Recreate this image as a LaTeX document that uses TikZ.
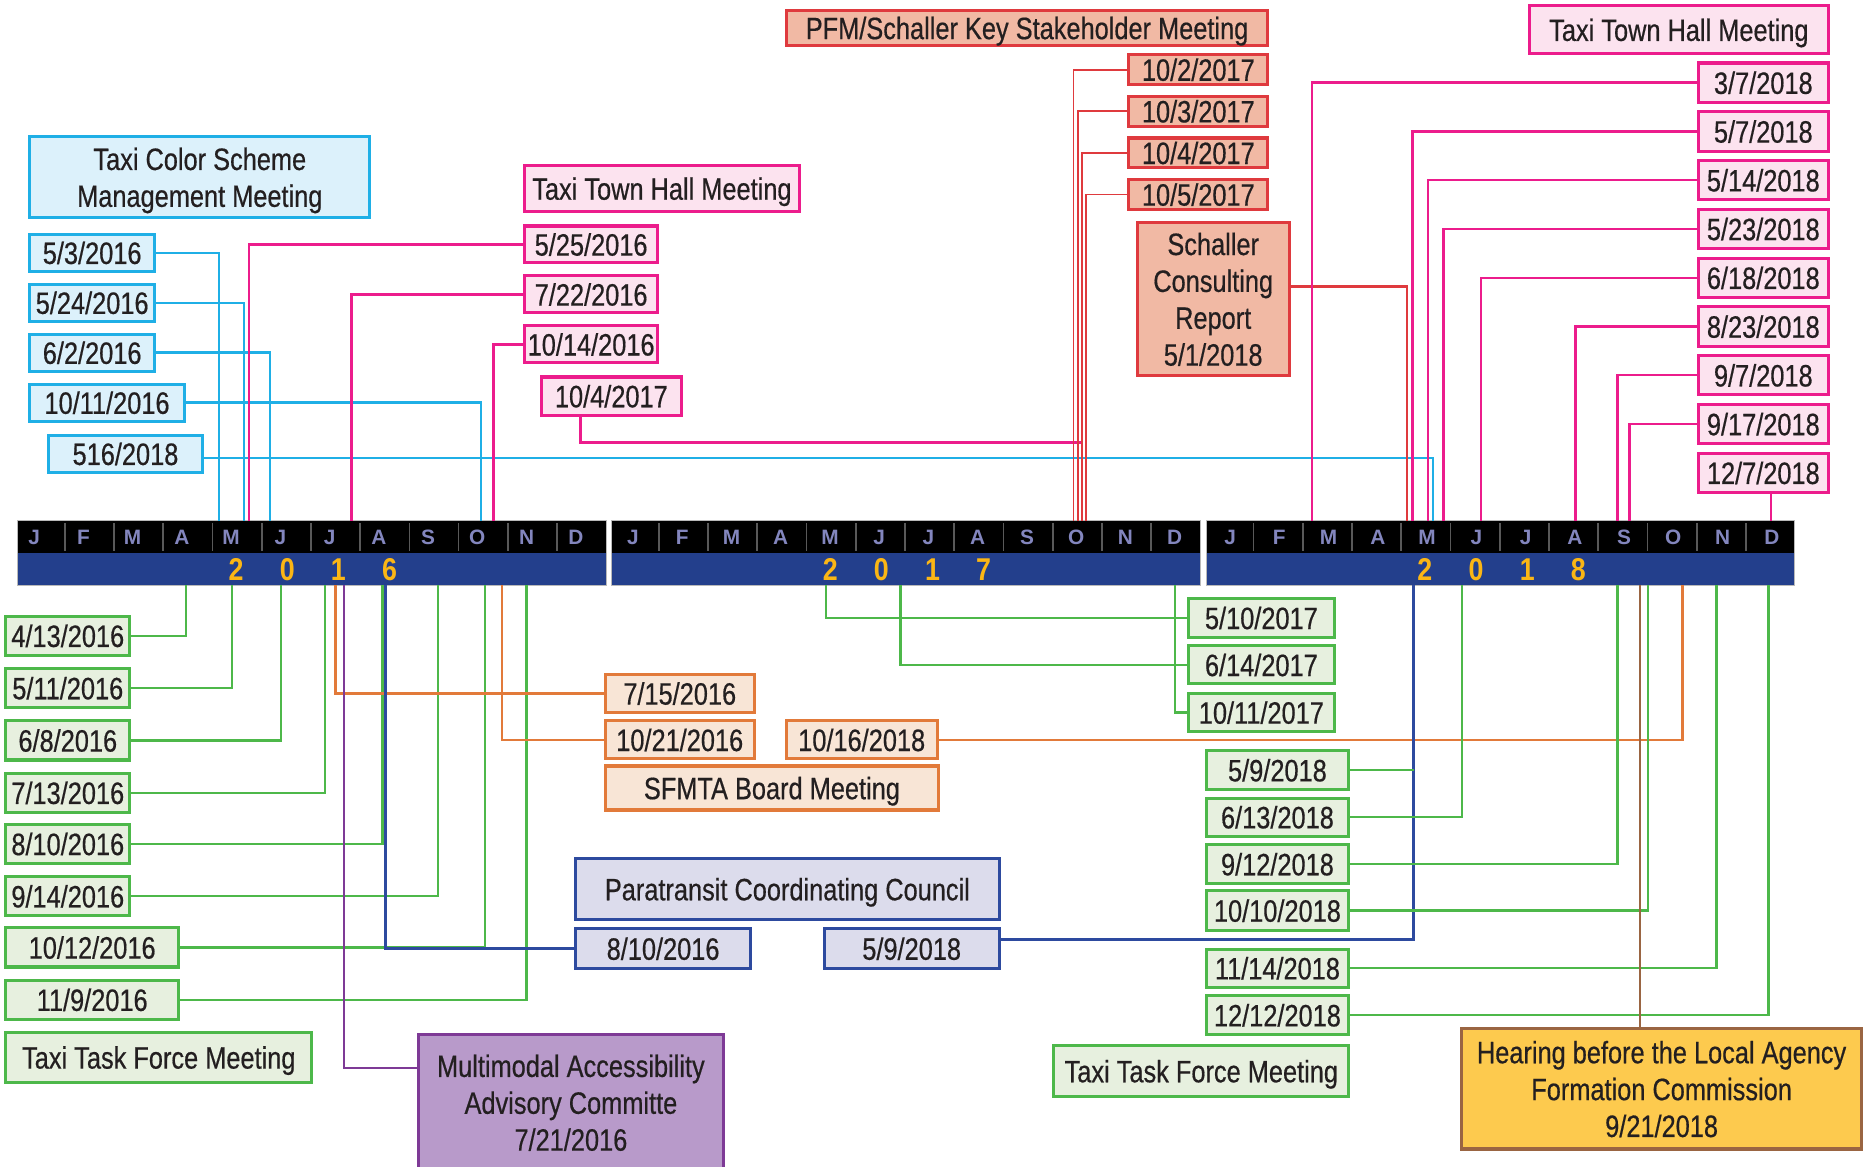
\documentclass[tikz,border=0pt]{standalone}
\usepackage{fontspec}
\setmainfont[FakeStretch=0.82,FakeBold=0.5]{Liberation Sans}
\newfontfamily\monthfont{Liberation Sans}
\newfontfamily\yearfont[FakeStretch=0.85]{Liberation Sans}
\definecolor{cyanB}{HTML}{1FAFE6}
\definecolor{cyanF}{HTML}{DCF1FB}
\definecolor{magB}{HTML}{EC1C8C}
\definecolor{magF}{HTML}{FCE3EF}
\definecolor{redB}{HTML}{DF3A3E}
\definecolor{redF}{HTML}{F1B9A4}
\definecolor{grnB}{HTML}{4DB84A}
\definecolor{grnF}{HTML}{E7F0DF}
\definecolor{orgB}{HTML}{E27A3A}
\definecolor{orgF}{HTML}{F8E5D6}
\definecolor{navB}{HTML}{2D4A9F}
\definecolor{navF}{HTML}{DCDCEC}
\definecolor{purB}{HTML}{7E3A96}
\definecolor{purF}{HTML}{B89ACA}
\definecolor{brnB}{HTML}{9A6542}
\definecolor{goldF}{HTML}{FDCA4E}
\definecolor{barblue}{HTML}{233F8C}
\definecolor{monthcol}{HTML}{8386BE}
\definecolor{yearcol}{HTML}{FBB615}
\definecolor{txt}{HTML}{231F20}
\newcommand\mkbox[7]{\node[#1, anchor=north west, minimum width={#5-#3}, minimum height={#6-#4}] (#2) at (#3,#4) {#7};}
\begin{document}
\begin{tikzpicture}[x=1pt,y=-1pt,
  base/.style={rectangle, draw, line width=2.6pt, inner sep=0pt, outer sep=0pt, text depth=0pt,
    font=\fontsize{26}{31}\selectfont, align=center, text=txt},
  cbox/.style={base, draw=cyanB, fill=cyanF},
  mbox/.style={base, draw=magB, fill=magF},
  rbox/.style={base, draw=redB, fill=redF},
  gbox/.style={base, draw=grnB, fill=grnF},
  obox/.style={base, draw=orgB, fill=orgF},
  vbox/.style={base, draw=navB, fill=navF},
  pbox/.style={base, draw=purB, fill=purF},
  hbox/.style={base, draw=brnB, fill=goldF},
  cl/.style={draw=cyanB, line width=2pt},
  ml/.style={draw=magB, line width=2pt},
  rl/.style={draw=redB, line width=2pt},
  rthin/.style={draw=redB, line width=1.6pt},
  gl/.style={draw=grnB, line width=2pt},
  ol/.style={draw=orgB, line width=2pt},
  vl/.style={draw=navB, line width=2pt},
  pl/.style={draw=purB, line width=2pt},
  brl/.style={draw=brnB, line width=2pt},
  monthtxt/.style={font=\monthfont\bfseries\fontsize{17.5}{18}\selectfont, text=monthcol, inner sep=0pt},
  yeartxt/.style={font=\yearfont\bfseries\fontsize{26.5}{27}\selectfont, text=yearcol, inner sep=0pt}
]
\useasboundingbox[fill=white] (0,0) rectangle (1568,981);

% ---------- timeline bars ----------
\foreach \s/\lo/\ya/\yb/\yc/\yd [count=\q] in {15/-6/2/0/1/6, 514.5/-2/2/0/1/7, 1014.5/0/2/0/1/8}{
  \fill[black] (\s,438) rectangle ++(494.5,27);
  \fill[barblue] (\s,465) rectangle ++(494.5,27);
  \draw[gray!55, line width=0.8pt] (\s,438) rectangle ++(494.5,54);
  \foreach \i in {1,...,11}{
    \draw[gray!70!black, line width=1.4pt] ({\s+\i*41.4-2},440) -- ({\s+\i*41.4-2},463);
  }
  \foreach \m [count=\i] in {J,F,M,A,M,J,J,A,S,O,N,D}{
    \node[monthtxt] (mo\q-\i) at ({\s+(\i-0.5)*41.4-1+\lo},452) {\m};
  }
  \node[yeartxt] (ya\q) at ({\s+183.5},479) {\ya};
  \node[yeartxt] (yb\q) at ({\s+226.5},479) {\yb};
  \node[yeartxt] (yc\q) at ({\s+269.5},479) {\yc};
  \node[yeartxt] (yd\q) at ({\s+312.5},479) {\yd};
}

% ---------- boxes ----------
\mkbox{cbox}{ctitle}{25}{115}{311}{183}{Taxi Color Scheme\\Management Meeting}
\mkbox{cbox}{c1}{25}{197}{130}{228}{5/3/2016}
\mkbox{cbox}{c2}{25}{239}{130}{270}{5/24/2016}
\mkbox{cbox}{c3}{25}{281}{130}{312}{6/2/2016}
\mkbox{cbox}{c4}{25}{323}{155}{354}{10/11/2016}
\mkbox{cbox}{c5}{41}{366}{170}{397}{516/2018}

\mkbox{mbox}{mtitle}{441}{139}{672}{178}{Taxi Town Hall Meeting}
\mkbox{mbox}{m1}{441}{190}{553}{221}{5/25/2016}
\mkbox{mbox}{m2}{441}{232}{553}{263}{7/22/2016}
\mkbox{mbox}{m3}{441}{274}{553}{305}{10/14/2016}
\mkbox{mbox}{m4}{455}{317}{573}{349}{10/4/2017}

\mkbox{rbox}{rtitle}{661}{9}{1066}{38}{PFM/Schaller Key Stakeholder Meeting}
\mkbox{rbox}{r1}{949}{46}{1066}{71}{10/2/2017}
\mkbox{rbox}{r2}{949}{81}{1066}{106}{10/3/2017}
\mkbox{rbox}{r3}{949}{116}{1066}{141}{10/4/2017}
\mkbox{rbox}{r4}{949}{151}{1066}{176}{10/5/2017}
\mkbox{rbox}{r5}{956}{187}{1084}{316}{Schaller\\Consulting\\Report\\5/1/2018}

\mkbox{mbox}{ntitle}{1286}{5}{1537}{45}{Taxi Town Hall Meeting}
\mkbox{mbox}{n1}{1428}{53}{1537}{86}{3/7/2018}
\mkbox{mbox}{n2}{1428}{94}{1537}{127}{5/7/2018}
\mkbox{mbox}{n3}{1428}{135}{1537}{168}{5/14/2018}
\mkbox{mbox}{n4}{1428}{176}{1537}{209}{5/23/2018}
\mkbox{mbox}{n5}{1428}{217}{1537}{250}{6/18/2018}
\mkbox{mbox}{n6}{1428}{258}{1537}{291}{8/23/2018}
\mkbox{mbox}{n7}{1428}{299}{1537}{332}{9/7/2018}
\mkbox{mbox}{n8}{1428}{340}{1537}{373}{9/17/2018}
\mkbox{mbox}{n9}{1428}{381}{1537}{414}{12/7/2018}

\mkbox{gbox}{g1}{5}{518}{109}{551}{4/13/2016}
\mkbox{gbox}{g2}{5}{562}{109}{595}{5/11/2016}
\mkbox{gbox}{g3}{5}{606}{109}{639}{6/8/2016}
\mkbox{gbox}{g4}{5}{650}{109}{683}{7/13/2016}
\mkbox{gbox}{g5}{5}{693}{109}{726}{8/10/2016}
\mkbox{gbox}{g6}{5}{737}{109}{770}{9/14/2016}
\mkbox{gbox}{g7}{5}{780}{150}{813}{10/12/2016}
\mkbox{gbox}{g8}{5}{824}{150}{857}{11/9/2016}
\mkbox{gbox}{gtitle}{5}{868}{262}{910}{Taxi Task Force Meeting}

\mkbox{obox}{o1}{509}{567}{634}{599}{7/15/2016}
\mkbox{obox}{o2}{509}{606}{634}{638}{10/21/2016}
\mkbox{obox}{o3}{661}{606}{788}{638}{10/16/2018}
\mkbox{obox}{otitle}{509}{644}{789}{681}{SFMTA Board Meeting}

\mkbox{pbox}{p1}{352}{870}{608}{984}{Multimodal Accessibility\\Advisory Committe\\7/21/2016}

\mkbox{vbox}{vtitle}{484}{722}{840}{773}{Paratransit Coordinating Council}
\mkbox{vbox}{v1}{484}{781}{631}{814}{8/10/2016}
\mkbox{vbox}{v2}{693}{781}{840}{814}{5/9/2018}

\mkbox{gbox}{e1}{999}{503}{1122}{536}{5/10/2017}
\mkbox{gbox}{e2}{999}{543}{1122}{575}{6/14/2017}
\mkbox{gbox}{e3}{999}{583}{1122}{615}{10/11/2017}

\mkbox{gbox}{f1}{1014}{631}{1134}{664}{5/9/2018}
\mkbox{gbox}{f2}{1014}{671}{1134}{703}{6/13/2018}
\mkbox{gbox}{f3}{1014}{710}{1134}{743}{9/12/2018}
\mkbox{gbox}{f4}{1014}{749}{1134}{782}{10/10/2018}
\mkbox{gbox}{f5}{1014}{798}{1134}{830}{11/14/2018}
\mkbox{gbox}{f6}{1014}{837}{1134}{870}{12/12/2018}
\mkbox{gbox}{ftitle}{886}{879}{1134}{922}{Taxi Task Force Meeting}

\mkbox{hbox}{h1}{1229}{865}{1565}{966}{Hearing before the Local Agency\\Formation Commission\\9/21/2018}

% ---------- anchor points on the bars ----------
% top edge (y = 438)
\coordinate (tc1) at (184,438);
\coordinate (tc2) at (205,438);
\coordinate (tc3) at (227,438);
\coordinate (tc4) at (404.5,438);
\coordinate (tc5) at (1205,438);
\coordinate (kc5) at (1205,385);
\coordinate (tm1) at (209.5,438);
\coordinate (tm2) at (295.5,438);
\coordinate (tm3) at (415,438);
\coordinate (tm4) at (909.5,438);
\coordinate (km4a) at (488,372);
\coordinate (km4b) at (909.5,372);
\coordinate (tr1) at (902.5,438);
\coordinate (tr2) at (906,438);
\coordinate (tr3) at (909.5,438);
\coordinate (tr4) at (913,438);
\coordinate (tr5) at (1183,438);
\coordinate (kr5) at (1183,241);
\coordinate (tn1) at (1103,438);
\coordinate (tn2) at (1187.5,438);
\coordinate (tn3) at (1200.5,438);
\coordinate (tn4) at (1213.5,438);
\coordinate (tn5) at (1245,438);
\coordinate (tn6) at (1324.5,438);
\coordinate (tn7) at (1360,438);
\coordinate (tn8) at (1370,438);
\coordinate (tn9) at (1489,438);
% bottom edge (y = 492)
\coordinate (bg1) at (156.5,492);
\coordinate (bg2) at (195,492);
\coordinate (bg3) at (236,492);
\coordinate (bg4) at (273.5,492);
\coordinate (bg5) at (321.5,492);
\coordinate (bg6) at (368.5,492);
\coordinate (bg7) at (408,492);
\coordinate (bg8) at (442.5,492);
\coordinate (bo1) at (282,492);
\coordinate (bo2) at (422,492);
\coordinate (bo3) at (1414.5,492);
\coordinate (bp1) at (289,492);
\coordinate (kp1) at (289,898);
\coordinate (bv1) at (324,492);
\coordinate (bv2) at (1188.5,492);
\coordinate (kv2) at (1188.5,790);
\coordinate (be1) at (694.5,492);
\coordinate (be2) at (757,492);
\coordinate (be3) at (988,492);
\coordinate (bf2) at (1229,492);
\coordinate (bf3) at (1360,492);
\coordinate (bf4) at (1385.5,492);
\coordinate (bf5) at (1443,492);
\coordinate (bf6) at (1487,492);
\coordinate (bh1) at (1379,492);

% ---------- connectors ----------
\draw[cl] (c1.east) -| (tc1);
\draw[cl] (c2.east) -| (tc2);
\draw[cl] (c3.east) -| (tc3);
\draw[cl] (c4.east) -| (tc4);
\draw[cl] (c5.east |- kc5) -- (kc5) -- (tc5);

\draw[ml] (m1.west) -| (tm1);
\draw[ml] (m2.west) -| (tm2);
\draw[ml] (m3.west) -| (tm3);
\draw[ml] (m4.south -| km4a) |- (km4b) -- (tm4);

\draw[rthin] (r1.west) -| (tr1);
\draw[rthin] (r2.west) -| (tr2);
\draw[rthin] (r3.west) -| (tr3);
\draw[rthin] (r4.west) -| (tr4);
\draw[rl] (r5.east |- kr5) -- (kr5) -- (tr5);

\draw[ml] (n1.west) -| (tn1);
\draw[ml] (n2.west) -| (tn2);
\draw[ml] (n3.west) -| (tn3);
\draw[ml] (n4.west) -| (tn4);
\draw[ml] (n5.west) -| (tn5);
\draw[ml] (n6.west) -| (tn6);
\draw[ml] (n7.west) -| (tn7);
\draw[ml] (n8.west) -| (tn8);
\draw[ml] (n9.south -| tn9) -- (tn9);

\draw[gl] (g1.east) -| (bg1);
\draw[gl] (g2.east) -| (bg2);
\draw[gl] (g3.east) -| (bg3);
\draw[gl] (g4.east) -| (bg4);
\draw[gl] (g5.east) -| (bg5);
\draw[gl] (g6.east) -| (bg6);
\draw[gl] (g7.east) -| (bg7);
\draw[gl] (g8.east) -| (bg8);

\draw[ol] (o1.west) -| (bo1);
\draw[ol] (o2.west) -| (bo2);
\draw[ol] (o3.east) -| (bo3);

\draw[pl] (p1.west |- kp1) -- (kp1) -- (bp1);

\draw[vl] (v1.west) -| (bv1);
\draw[vl] (v2.east |- kv2) -- (kv2) -- (bv2);

\draw[gl] (e1.west) -| (be1);
\draw[gl] (e2.west) -| (be2);
\draw[gl] (e3.west) -| (be3);

\draw[gl] (f1.east) -- (f1.east -| kv2);
\draw[gl] (f2.east) -| (bf2);
\draw[gl] (f3.east) -| (bf3);
\draw[gl] (f4.east) -| (bf4);
\draw[gl] (f5.east) -| (bf5);
\draw[gl] (f6.east) -| (bf6);

\draw[brl] (h1.north -| bh1) -- (bh1);
\end{tikzpicture}
\end{document}
